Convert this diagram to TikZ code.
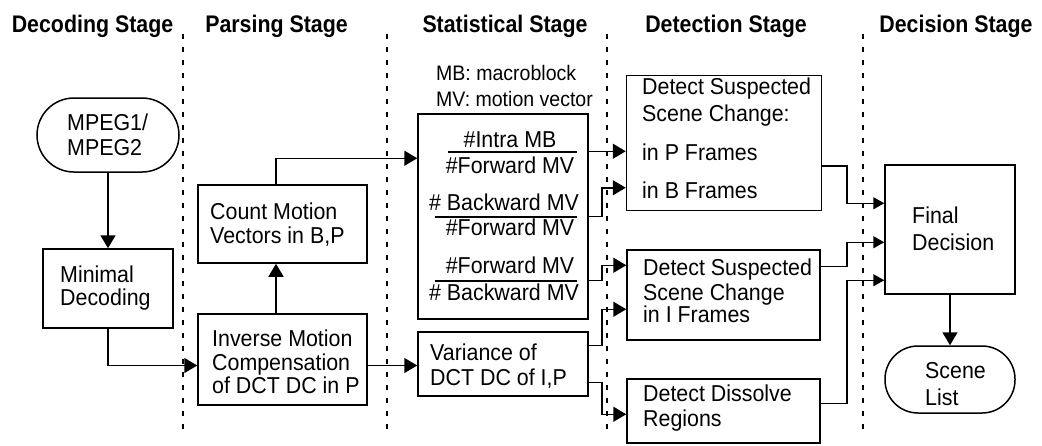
\documentclass[tikz,border=0pt]{standalone}
\usepackage{fontspec}
\setmainfont{Liberation Sans}[FakeStretch=0.93]
\newfontfamily\hdrfont{Liberation Sans}[FakeStretch=0.89]
\usetikzlibrary{arrows.meta,calc}
\begin{document}
\begin{tikzpicture}[x=1pt,y=-1pt,
  box/.style={draw, line width=1.5pt, inner sep=0pt, minimum width=#1},
  txt/.style={inner sep=0pt, anchor=base west, align=left, font=\fontsize{23}{24}\selectfont},
  frac/.style={inner sep=0pt, anchor=base, font=\fontsize{23}{24}\selectfont},
  hdr/.style={inner sep=0pt, anchor=base, font=\hdrfont\bfseries\fontsize{24}{26}\selectfont},
  arr/.style={line width=1.5pt, -{Triangle[length=13pt,width=15pt]}},
  sarr/.style={line width=1.5pt, -{Triangle[length=11pt,width=12pt]}},
  sep/.style={line width=1.3pt, dash pattern=on 5pt off 8pt}]
\useasboundingbox (0,0) rectangle (1042,445);

% headers
\node[hdr] (h1) at (92.5,32) {Decoding Stage};
\node[hdr] (h2) at (276.5,32) {Parsing Stage};
\node[hdr] (h3) at (505,32) {Statistical Stage};
\node[hdr] (h4) at (726,32) {Detection Stage};
\node[hdr] (h5) at (956,32) {Decision Stage};

% separators
\draw[sep] (183,34) -- (183,436);
\draw[sep] (387,34) -- (387,436);
\draw[sep] (607,34) -- (607,436);
\draw[sep] (863,34) -- (863,436);

% boxes
\node[box=142pt, minimum height=74pt, rounded corners=37pt] (mpeg) at (108,135) {};
\node[box=130pt, minimum height=79pt] (mindec) at (108,288.5) {};
\node[box=169pt, minimum height=78pt] (count) at (282.5,224) {};
\node[box=169pt, minimum height=91pt] (inv) at (282.5,359.5) {};
\node[box=170pt, minimum height=205pt] (stat) at (503,216.5) {};
\node[box=170pt, minimum height=64pt] (var) at (503,364) {};
\node[box=195pt, minimum height=135pt] (det1) at (724,143) {};
\node[box=193pt, minimum height=90pt] (det2) at (723.5,295) {};
\node[box=193pt, minimum height=64pt] (det3) at (723.5,411) {};
\node[box=130pt, minimum height=129pt] (final) at (950,229.5) {};
\node[box=130pt, minimum height=67pt, rounded corners=33pt] (scene) at (950,379.5) {};

% texts (anchor = baseline of the last line)
\node[txt] (tmpeg) at (67,155) {MPEG1/\\[1pt]MPEG2};
\node[txt] (tmindec) at (60,305) {Minimal\\[-1pt]Decoding};
\node[txt] (tcount) at (210,243) {Count Motion\\Vectors in B,P};
\node[txt] (tinv) at (212,393) {Inverse Motion\\Compensation\\[-1pt]of DCT DC in P};
\node[txt] (tvar) at (430,385) {Variance of\\[1pt]DCT DC of I,P};
\node[txt] (tdet1) at (642,198) {Detect Suspected\\[3pt]Scene Change:\\[15pt]in P Frames\\[14pt]in B Frames};
\node[txt] (tdet2) at (643,322) {Detect Suspected\\[1pt]Scene Change\\[-2pt]in I Frames};
\node[txt] (tdet3) at (643,426) {Detect Dissolve\\[1pt]Regions};
\node[txt] (tfinal) at (912,250) {Final\\[3pt]Decision};
\node[txt] (tscene) at (925,405) {Scene\\[3pt]List};
\node[inner sep=0pt, anchor=base west, align=left, font=\fontsize{21}{26}\selectfont] (legend) at (436,106) {MB: macroblock\\MV: motion vector};

% fractions
\node[frac] (f1n) at (510,147) {\#Intra MB};
\node[frac] (f1d) at (510,173) {\#Forward MV};
\node[frac] (f2n) at (504,210) {\# Backward MV};
\node[frac] (f2d) at (510,235) {\#Forward MV};
\node[frac] (f3n) at (510,273) {\#Forward MV};
\node[frac] (f3d) at (504,300) {\# Backward MV};
\draw[line width=1.5pt] (448,152) -- (577,152);
\draw[line width=1.5pt] (435,217) -- (577,217);
\draw[line width=1.5pt] (435,281) -- (577,281);

% elbow columns
\coordinate (m1) at (602,0);
\coordinate (m2) at (847,0);

% connector end points
\coordinate (i1) at ($(inv.west)+(0,6)$);
\coordinate (i2) at ($(inv.north)+(-6.5,0)$);
\coordinate (c1) at ($(count.south)+(-6.5,0)$);
\coordinate (c2) at ($(count.north)+(-6.5,0)$);
\coordinate (st0) at ($(stat.north west)+(0,45)$);
\coordinate (i3) at ($(inv.east)+(0,6)$);
\coordinate (s1) at ($(stat.north east)+(0,38)$);
\coordinate (s2) at ($(stat.north east)+(0,103)$);
\coordinate (s3) at ($(stat.north east)+(0,167)$);
\coordinate (v1) at ($(var.north east)+(0,14)$);
\coordinate (v2) at ($(var.north east)+(0,51)$);
\coordinate (e2) at ($(det1.north west)+(0,113)$);
\coordinate (e3) at ($(det2.north west)+(0,16)$);
\coordinate (e4) at ($(det2.north west)+(0,60)$);
\coordinate (e5) at ($(det3.north west)+(0,36)$);
\coordinate (d1) at ($(det1.north east)+(0,91)$);
\coordinate (d2) at ($(det2.north east)+(0,17)$);
\coordinate (d3) at ($(det3.north east)+(0,25)$);
\coordinate (f1) at ($(final.north west)+(0,39)$);
\coordinate (f2) at ($(final.north west)+(0,78)$);
\coordinate (f3) at ($(final.north west)+(0,116)$);

% connectors
\draw[arr] (mpeg.south) -- (mindec.north);
\draw[arr] (mindec.south) |- (i1);
\draw[arr] (i2) -- (c1);
\draw[arr] (c2) |- (st0);
\draw[arr] (i3) -- (i3 -| var.west);

\draw[arr] (s1) -- (s1 -| det1.west);
\draw[arr] (s2) -- (s2 -| m1) |- (e2);
\draw[arr] (s3) -- (s3 -| m1) |- (e3);
\draw[arr] (v1) -- (v1 -| m1) |- (e4);
\draw[arr] (v2) -- (v2 -| m1) |- (e5);

\draw[sarr] (d1) -- (d1 -| m2) |- (f1);
\draw[sarr] (d2) -- (d2 -| m2) |- (f2);
\draw[sarr] (d3) -- (d3 -| m2) |- (f3);
\draw[arr] (final.south) -- (scene.north);
\end{tikzpicture}
\end{document}
